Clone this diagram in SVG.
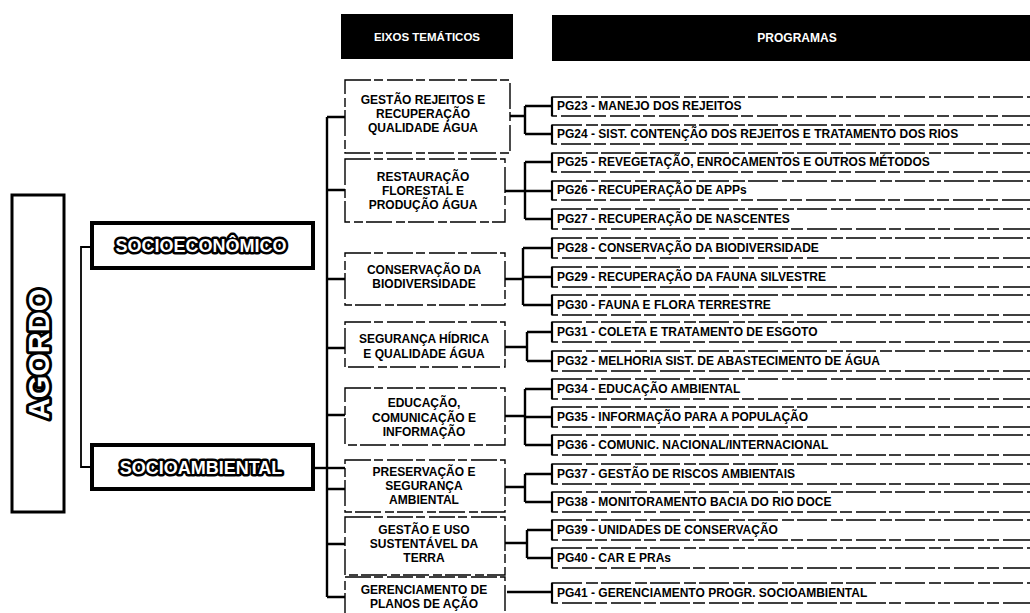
<svg xmlns="http://www.w3.org/2000/svg" width="1030" height="613" viewBox="0 0 1030 613">
<style>
  .bg{fill:#ffffff}
  .t{font-family:"Liberation Sans",Arial,sans-serif;font-weight:700;fill:#000}
  .hdr{fill:#000}
  .hdrt{font-family:"Liberation Sans",Arial,sans-serif;font-weight:700;fill:#fff;font-size:11.5px;text-anchor:middle}
  .eixo{fill:#fff;stroke:#000;stroke-width:1.4;stroke-dasharray:26 3 9 4}
  .et{font-size:12px;text-anchor:middle}
  .pg{fill:#fff;stroke:#000;stroke-width:1.3;stroke-dasharray:30 4 12 3}
  .pgl{stroke:#000;stroke-width:2.2;fill:none}
  .pt{font-size:12px}
  .big{fill:#fff;stroke:#000;stroke-width:4}
  .ag{fill:#fff;stroke:#000;stroke-width:3}
  .out{font-family:"Liberation Sans",Arial,sans-serif;font-weight:700;fill:#fff;stroke:#000;stroke-width:5;paint-order:stroke;stroke-linejoin:round}
  .c{stroke:#000;stroke-width:2.4;fill:none}
  .c2{stroke:#000;stroke-width:1.8;fill:none}
</style>
<rect class="bg" x="0" y="0" width="1030" height="613"/>

<g id="connectors">
  <path class="c2" d="M92 247 H81 V467 H92"/>
  <path class="c" d="M313 468 H345"/>
  <path class="c" d="M327 117 V597"/>
  <path class="c" d="M327 117 H345 M327 190 H345 M327 279 H345 M327 348 H345 M327 415 H345 M327 489 H345 M327 544 H345 M327 597 H345"/>
  <path class="c" d="M510 116 H525 M525 106 V134 M525 106 H552 M525 134 H552"/>
  <path class="c" d="M505 191 H525 M525 162 V219 M525 162 H552 M525 191 H552 M525 219 H552"/>
  <path class="c" d="M505 279 H523 M523 248 V305 M523 248 H552 M523 277 H552 M523 305 H552"/>
  <path class="c" d="M505 347 H527 M527 332 V361 M527 332 H552 M527 361 H552"/>
  <path class="c" d="M505 416 H525 M525 389 V445 M525 389 H552 M525 417 H552 M525 445 H552"/>
  <path class="c" d="M505 487 H525 M525 474 V502 M525 474 H552 M525 502 H552"/>
  <path class="c" d="M505 543 H527 M527 530 V558 M527 530 H552 M527 558 H552"/>
  <path class="c" d="M507 592 H552"/>
</g>

<g id="agordo">
  <rect class="ag" x="12" y="195" width="52" height="317"/>
  <text class="out" x="0" y="0" font-size="29" text-anchor="middle" transform="translate(49 354) rotate(-90)" style="stroke-width:6">AGORDO</text>
</g>

<g id="socioeconomico">
  <rect class="big" x="92" y="223" width="221" height="45"/>
  <text class="out" x="201" y="252" font-size="18" text-anchor="middle">SOCIOECONÔMICO</text>
</g>

<g id="socioambiental">
  <rect class="big" x="92" y="445" width="221" height="44"/>
  <text class="out" x="201" y="474" font-size="18" text-anchor="middle">SOCIOAMBIENTAL</text>
</g>

<g id="hdr-eixos">
  <rect class="hdr" x="341" y="14" width="172" height="45"/>
  <text class="hdrt" x="427" y="41">EIXOS TEMÁTICOS</text>
</g>
<g id="hdr-programas">
  <rect class="hdr" x="552" y="15" width="500" height="46"/>
  <text class="hdrt" x="797" y="42" style="font-size:12px">PROGRAMAS</text>
</g>

<g id="eixo1">
  <rect class="eixo" x="345" y="80" width="165" height="73"/>
  <text class="t et" x="423" y="104">GESTÃO  REJEITOS E</text>
  <text class="t et" x="423" y="118">RECUPERAÇÃO</text>
  <text class="t et" x="423" y="132">QUALIDADE ÁGUA</text>
</g>
<g id="eixo2">
  <rect class="eixo" x="345" y="159" width="160" height="63"/>
  <text class="t et" x="423" y="181">RESTAURAÇÃO</text>
  <text class="t et" x="423" y="195">FLORESTAL E</text>
  <text class="t et" x="423" y="209">PRODUÇÃO ÁGUA</text>
</g>
<g id="eixo3">
  <rect class="eixo" x="345" y="253" width="160" height="52"/>
  <text class="t et" x="424" y="274">CONSERVAÇÃO DA</text>
  <text class="t et" x="424" y="288">BIODIVERSIDADE</text>
</g>
<g id="eixo4">
  <rect class="eixo" x="345" y="322" width="160" height="45"/>
  <text class="t et" x="424" y="343">SEGURANÇA HÍDRICA</text>
  <text class="t et" x="424" y="358">E QUALIDADE ÁGUA</text>
</g>
<g id="eixo5">
  <rect class="eixo" x="345" y="388" width="160" height="57"/>
  <text class="t et" x="424" y="407">EDUCAÇÃO,</text>
  <text class="t et" x="424" y="422">COMUNICAÇÃO E</text>
  <text class="t et" x="424" y="436">INFORMAÇÃO</text>
</g>
<g id="eixo6">
  <rect class="eixo" x="345" y="460" width="160" height="52"/>
  <text class="t et" x="424" y="476">PRESERVAÇÃO E</text>
  <text class="t et" x="424" y="490">SEGURANÇA</text>
  <text class="t et" x="424" y="504">AMBIENTAL</text>
</g>
<g id="eixo7">
  <rect class="eixo" x="345" y="517" width="160" height="58"/>
  <text class="t et" x="424" y="534">GESTÃO E USO</text>
  <text class="t et" x="424" y="548">SUSTENTÁVEL DA</text>
  <text class="t et" x="424" y="562">TERRA</text>
</g>
<g id="eixo8">
  <rect class="eixo" x="345" y="577" width="160" height="50"/>
  <text class="t et" x="424" y="594">GERENCIAMENTO DE</text>
  <text class="t et" x="424" y="608">PLANOS DE AÇÃO</text>
</g>

<g id="pg23"><rect class="pg" x="552" y="97" width="500" height="19"/><path class="pgl" d="M552 97 V116"/><text class="t pt" x="557" y="110">PG23 - MANEJO DOS REJEITOS</text></g>
<g id="pg24"><rect class="pg" x="552" y="125" width="500" height="19"/><path class="pgl" d="M552 125 V144"/><text class="t pt" x="557" y="138">PG24 - SIST. CONTENÇÃO DOS REJEITOS E TRATAMENTO DOS RIOS</text></g>
<g id="pg25"><rect class="pg" x="552" y="153" width="500" height="19"/><path class="pgl" d="M552 153 V172"/><text class="t pt" x="557" y="166">PG25 - REVEGETAÇÃO, ENROCAMENTOS E OUTROS MÉTODOS</text></g>
<g id="pg26"><rect class="pg" x="552" y="181" width="500" height="19"/><path class="pgl" d="M552 181 V200"/><text class="t pt" x="557" y="194">PG26 - RECUPERAÇÃO DE APPs</text></g>
<g id="pg27"><rect class="pg" x="552" y="209" width="500" height="20"/><path class="pgl" d="M552 209 V229"/><text class="t pt" x="557" y="223">PG27 - RECUPERAÇÃO DE NASCENTES</text></g>
<g id="pg28"><rect class="pg" x="552" y="238" width="500" height="20"/><path class="pgl" d="M552 238 V258"/><text class="t pt" x="557" y="252">PG28 - CONSERVAÇÃO DA BIODIVERSIDADE</text></g>
<g id="pg29"><rect class="pg" x="552" y="267" width="500" height="20"/><path class="pgl" d="M552 267 V287"/><text class="t pt" x="557" y="281">PG29 - RECUPERAÇÃO DA FAUNA SILVESTRE</text></g>
<g id="pg30"><rect class="pg" x="552" y="295" width="500" height="20"/><path class="pgl" d="M552 295 V315"/><text class="t pt" x="557" y="309">PG30 - FAUNA E FLORA TERRESTRE</text></g>
<g id="pg31"><rect class="pg" x="552" y="322" width="500" height="20"/><path class="pgl" d="M552 322 V342"/><text class="t pt" x="557" y="336">PG31 - COLETA E TRATAMENTO DE ESGOTO</text></g>
<g id="pg32"><rect class="pg" x="552" y="351" width="500" height="20"/><path class="pgl" d="M552 351 V371"/><text class="t pt" x="557" y="365">PG32 - MELHORIA SIST. DE ABASTECIMENTO DE ÁGUA</text></g>
<g id="pg34"><rect class="pg" x="552" y="379" width="500" height="20"/><path class="pgl" d="M552 379 V399"/><text class="t pt" x="557" y="393">PG34 - EDUCAÇÃO AMBIENTAL</text></g>
<g id="pg35"><rect class="pg" x="552" y="407" width="500" height="20"/><path class="pgl" d="M552 407 V427"/><text class="t pt" x="557" y="421">PG35 - INFORMAÇÃO PARA A POPULAÇÃO</text></g>
<g id="pg36"><rect class="pg" x="552" y="435" width="500" height="20"/><path class="pgl" d="M552 435 V455"/><text class="t pt" x="557" y="449">PG36 - COMUNIC. NACIONAL/INTERNACIONAL</text></g>
<g id="pg37"><rect class="pg" x="552" y="464" width="500" height="20"/><path class="pgl" d="M552 464 V484"/><text class="t pt" x="557" y="478">PG37 - GESTÃO DE RISCOS AMBIENTAIS</text></g>
<g id="pg38"><rect class="pg" x="552" y="492" width="500" height="20"/><path class="pgl" d="M552 492 V512"/><text class="t pt" x="557" y="506">PG38 - MONITORAMENTO BACIA DO RIO DOCE</text></g>
<g id="pg39"><rect class="pg" x="552" y="520" width="500" height="20"/><path class="pgl" d="M552 520 V540"/><text class="t pt" x="557" y="534">PG39 - UNIDADES DE CONSERVAÇÃO</text></g>
<g id="pg40"><rect class="pg" x="552" y="548" width="500" height="20"/><path class="pgl" d="M552 548 V568"/><text class="t pt" x="557" y="562">PG40 - CAR E PRAs</text></g>
<g id="pg41"><rect class="pg" x="552" y="583" width="500" height="20"/><path class="pgl" d="M552 583 V603"/><text class="t pt" x="557" y="597">PG41 - GERENCIAMENTO PROGR. SOCIOAMBIENTAL</text></g>
</svg>
